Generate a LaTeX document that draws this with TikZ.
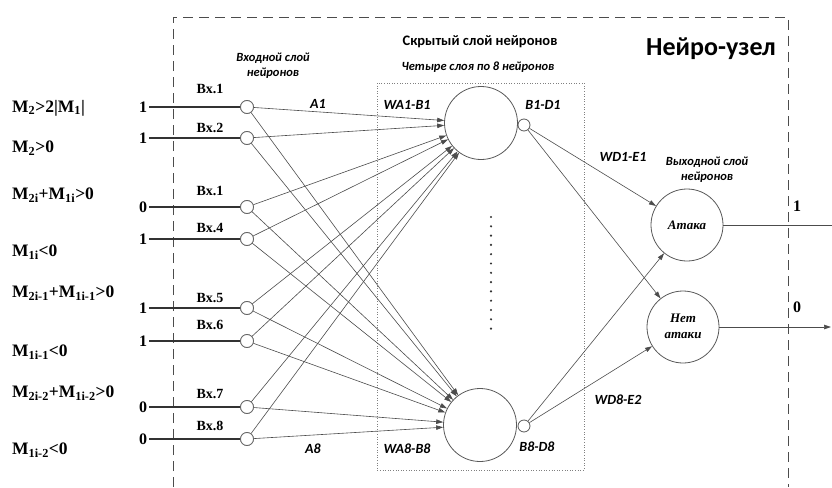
\documentclass[tikz,border=0pt]{standalone}
\usepackage{fontspec}
\setmainfont{Liberation Serif}
\newfontfamily\calfont{Carlito}
\usetikzlibrary{arrows.meta}
\newcommand{\lo}[1]{\textsubscript{#1}}
\begin{document}
\begin{tikzpicture}[x=1pt,y=-1pt,
  incirc/.style={circle, draw=black!60, line width=0.8pt, minimum size=13pt, inner sep=0pt, fill=white},
  bigcirc/.style={circle, draw=black!65, line width=0.8pt, minimum size=73pt, inner sep=0pt},
  outcirc/.style={circle, draw=black!65, line width=0.8pt, minimum size=12pt, inner sep=0pt, fill=white},
  conn/.style={draw=black!70, line width=0.6pt, -{Triangle[length=7pt,width=4.5pt]}},
  plainconn/.style={draw=black!70, line width=0.7pt},
  wire/.style={draw=black!80, line width=1.6pt},
  cond/.style={anchor=west, inner sep=0pt, font=\fontsize{17.5}{20}\selectfont\bfseries},
  val/.style={inner sep=2pt, font=\fontsize{16}{18}\selectfont\bfseries},
  bx/.style={inner sep=0pt, font=\fontsize{14}{16}\selectfont\bfseries},
  wlab/.style={inner sep=0pt, font=\calfont\fontsize{14}{16}\selectfont\bfseries\itshape},
  note/.style={inner sep=0pt, align=center, font=\calfont\fontsize{12.5}{15}\selectfont\bfseries\itshape},
  neuronname/.style={inner sep=0pt, align=center, font=\fontsize{13}{16}\selectfont\bfseries\itshape},
  frame/.style={draw=black!70, line width=0.9pt, dash pattern=on 10pt off 6pt}
]
\useasboundingbox (0,0) rectangle (832,487);

% node frame and hidden-layer box
\draw[frame] (173,487) -- (173,17) -- (788,17) -- (788,487);
\draw[black!50, line width=0.6pt, dotted] (377,83) rectangle (584,470);

% titles
\node[font=\calfont\fontsize{26}{29}\selectfont\bfseries] (title) at (711,49) {Нейро-узел};
\node[font=\calfont\fontsize{14.5}{16}\selectfont\bfseries] (hidtitle) at (480,42) {Скрытый слой нейронов};
\node[note] (hidnote) at (478,67) {Четыре слоя по 8 нейронов};
\node[note] (innote) at (273,66) {Входной слой\\нейронов};
\node[note] (outnote) at (707,170) {Выходной слой\\нейронов};

% conditions
\node[cond] (c1) at (12,108) {M\lo{2}>2|M\lo{1}|};
\node[cond] (c2) at (12,148) {M\lo{2}>0};
\node[cond] (c3) at (12,195) {M\lo{2i}+M\lo{1i}>0};
\node[cond] (c4) at (12,252) {M\lo{1i}<0};
\node[cond] (c5) at (12,293) {M\lo{2i-1}+M\lo{1i-1}>0};
\node[cond] (c6) at (12,352) {M\lo{1i-1}<0};
\node[cond] (c7) at (12,393) {M\lo{2i-2}+M\lo{1i-2}>0};
\node[cond] (c8) at (12,450) {M\lo{1i-2}<0};

% input values, input neurons and their labels
\foreach \k/\y/\v/\lab/\ly in {1/107/1/Вх.1/89, 2/138/1/Вх.2/128, 3/207/0/Вх.1/191, 4/239/1/Вх.4/228,
                               5/308/1/Вх.5/298, 6/341/1/Вх.6/325, 7/407/0/Вх.7/394, 8/439/0/Вх.8/426}{
  \node[val] (v\k) at (143,\y) {\v};
  \node[incirc] (in\k) at (247,\y) {};
  \node[bx] (bx\k) at (210,\ly) {\lab};
  \draw[wire] (v\k.east) -- (in\k.west);
}

% hidden neurons
\node[bigcirc] (h1) at (481,123) {};
\node[bigcirc] (h8) at (480,425) {};
\node[outcirc] (h1o) at (524,125) {};
\node[outcirc] (h8o) at (524,426) {};
\foreach \yy in {217,226.3,...,330}{
  \fill[black!80] (491,\yy) circle (1.2pt);
}

% output neurons
\node[bigcirc, minimum size=72pt] (o1) at (687,225) {};
\node[bigcirc, minimum size=72pt] (o2) at (683,327) {};
\node[neuronname] (o1t) at (687,225) {Атака};
\node[neuronname] (o2t) at (683,326) {Нет\\атаки};

% input-to-hidden connections
\foreach \k in {1,...,8}{
  \draw[conn] (in\k) -- (h1);
  \draw[conn] (in\k) -- (h8);
}
\foreach \k in {1,...,8}{ \node[incirc] at (in\k) {}; }

% hidden-to-output connections
\draw[conn] (h1o) -- (o1);
\draw[conn] (h1o) -- (o2);
\draw[conn] (h8o) -- (o1);
\draw[conn] (h8o) -- (o2);

% outputs
\coordinate (e1) at (832,225);
\coordinate (e2) at (831,327);
\draw[plainconn] (o1.east) -- (e1);
\draw[conn] (o2.east) -- (e2);
\node[val] (r1) at (797,206) {1};
\node[val] (r0) at (797,307) {0};

% weight labels
\node[wlab] (a1) at (318,104) {A1};
\node[wlab] (wa1) at (407,105) {WA1-B1};
\node[wlab] (b1) at (543,105) {B1-D1};
\node[wlab] (wd1) at (623,157) {WD1-E1};
\node[wlab] (wd8) at (618,400) {WD8-E2};
\node[wlab] (b8) at (537,447) {B8-D8};
\node[wlab] (wa8) at (407,449) {WA8-B8};
\node[wlab] (a8) at (313,449) {A8};
\end{tikzpicture}
\end{document}
